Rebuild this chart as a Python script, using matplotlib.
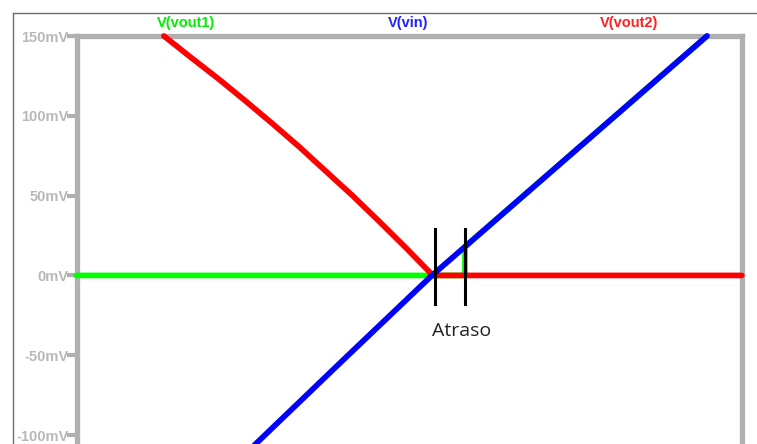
import matplotlib
matplotlib.use('Agg')
import matplotlib.pyplot as plt
from matplotlib.lines import Line2D

# sweep values (mV) and waveform values (mV)
vin_x = [-97, -48, 0, 75, 150]
vin_y = [-106.5, -52.5, 0, 75, 150]

vout2_x = [-146.2, -131.5, -116.7, -102.0, -87.3, -72.5, -57.8, -43.6, -28.9, -14.2, 0.5, 169]
vout2_y = [150, 136.6, 123.4, 109.6, 95.4, 80.7, 65.2, 50.3, 34.0, 17.3, 0, 0]

vout1_x = [-194, 18, 18, 75, 150]
vout1_y = [0, 0, 18, 75, 150]

cursor_x = [1.5, 18]
cursor_y = [-18, 29]

yticks = [150, 100, 50, 0, -50, -100]
ytick_labels = ['150mV', '100mV', '50mV', '0mV', '-50mV', '-100mV']

W, H = 757, 444
fig = plt.figure(figsize=(W / 100, H / 100), dpi=100)

# thin outer window border
fig.add_artist(Line2D([13 / W, 13 / W], [0, 1 - 13 / H], color='#6e6e6e', lw=1))
fig.add_artist(Line2D([13 / W, 1], [1 - 13 / H, 1 - 13 / H], color='#6e6e6e', lw=1))

ax = fig.add_axes([77 / W, 0, 665 / W, 408 / H])
ax.set_xlim(-193.6, 169.1)
ax.set_ylim(-105.6, 150)

grey = '#b0b0b0'
for side in ['left', 'top', 'right']:
    ax.spines[side].set_color(grey)
    ax.spines[side].set_linewidth(3.8)
ax.spines['bottom'].set_visible(False)

ax.set_yticks(yticks)
ax.set_yticklabels(ytick_labels, fontfamily='Liberation Sans', fontsize=10.5,
                   fontweight='bold', color='#b8b8b8')
ax.tick_params(axis='y', length=7, width=3, color=grey, pad=-1)
ax.set_xticks([])

lw = 4.1
ax.plot(vout1_x, vout1_y, color='#00ff00', lw=lw, solid_capstyle='round',
        solid_joinstyle='round', clip_on=False, zorder=3)
ax.plot(vout2_x, vout2_y, color='#ff0000', lw=lw, solid_capstyle='round',
        solid_joinstyle='round', clip_on=False, zorder=4)
ax.plot(vin_x, vin_y, color='#0000ff', lw=lw, solid_capstyle='round',
        solid_joinstyle='round', clip_on=False, zorder=5)

# delay markers
for cx in cursor_x:
    ax.plot([cx, cx], cursor_y, color='black', lw=2.2, zorder=6)
ax.text(16.4, -34.5, 'Atraso', fontfamily='Open Sans', fontsize=14,
        ha='center', va='center', color='#222222', zorder=6)

# trace names above the plot
for name, xp, col in [('V(vout1)', 186, '#00ee00'), ('V(vin)', 408, '#2222ff'),
                      ('V(vout2)', 629, '#ff2020')]:
    fig.text(xp / W, 1 - 23 / H, name, ha='center', va='center',
             fontfamily='Liberation Sans', fontsize=10.5, fontweight='bold', color=col)

fig.savefig('out.png', dpi=100)
